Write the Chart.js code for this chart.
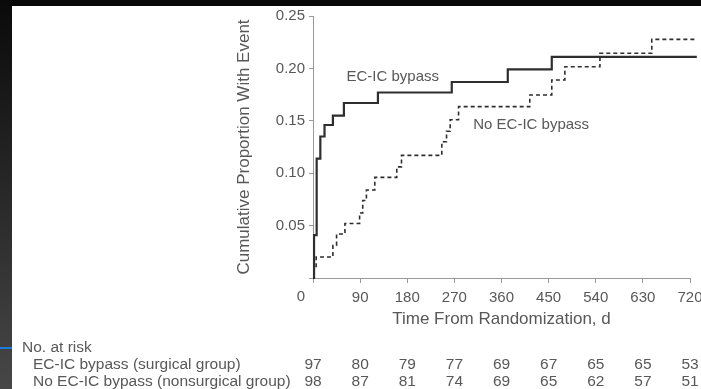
<!DOCTYPE html>
<html>
<head>
<meta charset="utf-8">
<script src="https://cdn.jsdelivr.net/npm/chart.js@4/dist/chart.umd.min.js"></script>
<style>
  html, body { margin: 0; padding: 0; }
  body { width: 701px; height: 389px; background: #080808; position: relative; overflow: hidden; }
  #strip { position: absolute; left: 0; top: 0; width: 12px; height: 389px; background: linear-gradient(#0a0a0a, #474747); }
  #blue { position: absolute; left: 0; top: 347px; width: 12px; height: 2px; background: #1f7ae0; }
  #panel { position: absolute; left: 12px; top: 6px; width: 689px; height: 383px; background: #fff; }
</style>
</head>
<body>
<div id="strip"></div>
<div id="blue"></div>
<div id="panel"><canvas id="km"></canvas></div>
<script>
// Kaplan-Meier steps (day of event, cumulative proportion after it)
const ecicDays = [0, 2, 7, 14, 22, 38, 59, 124, 265, 372, 456, 733];
const ecicProp = [0, 0.041, 0.114, 0.135, 0.146, 0.155, 0.167, 0.177, 0.187, 0.199, 0.211, 0.211];

const noEcicDays = [0, 2, 6, 38, 45, 61, 89, 95, 102, 118, 160, 169, 246, 255, 262, 278, 414, 456, 481, 548, 647, 733];
const noEcicProp = [0, 0.01, 0.02, 0.031, 0.042, 0.052, 0.062, 0.074, 0.084, 0.096, 0.106, 0.117, 0.13, 0.14, 0.151, 0.1635, 0.1746, 0.189, 0.2016, 0.2144, 0.2277, 0.2277];

// number at risk table
const riskDays = [0, 90, 180, 270, 360, 450, 540, 630, 720];
const riskEcic = [97, 80, 79, 77, 69, 67, 65, 65, 53];
const riskNoEcic = [98, 87, 81, 74, 69, 65, 62, 57, 51];
const riskRowLabels = ["EC-IC bypass (surgical group)", "No EC-IC bypass (nonsurgical group)"];

const fontFamily = "'Liberation Sans', Arial, Helvetica, sans-serif";
const textColor = "#585858";
const axisColor = "#9a9a9a";

// text labels next to the curves, placed in data units
const curveLabels = [
  { text: "EC-IC bypass", day: 64, prop: 0.192 },
  { text: "No EC-IC bypass", day: 306, prop: 0.146 },
];

const toPoints = (days, props) => days.map((d, i) => ({ x: d, y: props[i] }));

const riskTable = {
  id: "riskTable",
  afterDraw(chart) {
    const { ctx } = chart;
    const { x, y } = chart.scales;
    ctx.save();
    ctx.fillStyle = textColor;
    ctx.font = `15px ${fontFamily}`;
    ctx.textBaseline = "middle";

    ctx.textAlign = "left";
    curveLabels.forEach((l) => {
      ctx.fillText(l.text, x.getPixelForValue(l.day), y.getPixelForValue(l.prop));
    });

    // shared origin label
    ctx.textAlign = "right";
    ctx.fillText("0", x.left - 8, x.top + 19);

    ctx.font = `15.5px ${fontFamily}`;
    ctx.textAlign = "left";
    ctx.fillText("No. at risk", 10, 342);
    ctx.fillText(riskRowLabels[0], 21, 359);
    ctx.fillText(riskRowLabels[1], 21, 376);

    ctx.textAlign = "center";
    riskDays.forEach((d, i) => {
      const px = x.getPixelForValue(d);
      ctx.fillText(String(riskEcic[i]), px, 359);
      ctx.fillText(String(riskNoEcic[i]), px, 376);
    });
    ctx.restore();
  },
};

const ctx = document.getElementById("km").getContext("2d");

new Chart(ctx, {
  type: "line",
  data: {
    datasets: [
      {
        label: "EC-IC bypass",
        data: toPoints(ecicDays, ecicProp),
        stepped: "before",
        borderColor: "#2e2e2e",
        borderWidth: 2.2,
        pointRadius: 0,
        fill: false,
        clip: false,
      },
      {
        label: "No EC-IC bypass",
        data: toPoints(noEcicDays, noEcicProp),
        stepped: "before",
        borderColor: "#2e2e2e",
        borderWidth: 1.6,
        borderDash: [4, 3],
        pointRadius: 0,
        fill: false,
        clip: false,
      },
    ],
  },
  options: {
    responsive: true,
    maintainAspectRatio: false,
    animation: false,
    devicePixelRatio: 1,
    layout: { padding: { left: 222, right: 11, top: 10, bottom: 55 } },
    plugins: {
      legend: { display: false },
      tooltip: { enabled: false },
    },
    scales: {
      x: {
        type: "linear",
        min: 0,
        max: 720,
        border: { display: true, color: axisColor },
        grid: { drawOnChartArea: false, drawTicks: true, tickLength: 5, color: axisColor },
        ticks: {
          stepSize: 90,
          padding: 6,
          color: textColor,
          font: { family: fontFamily, size: 15 },
          maxRotation: 0,
          callback: (v) => (v === 0 ? "" : v),
        },
        title: {
          display: true,
          text: "Time From Randomization, d",
          color: textColor,
          font: { family: fontFamily, size: 17 },
          padding: { top: 4, bottom: 4 },
        },
        afterFit: (s) => {
          s.height = 56;
          s.paddingLeft = 0;
          s.paddingRight = 0;
        },
      },
      y: {
        min: 0,
        max: 0.25,
        border: { display: true, color: axisColor },
        grid: { drawOnChartArea: false, drawTicks: true, tickLength: 4, color: axisColor },
        ticks: {
          stepSize: 0.05,
          padding: 4,
          color: textColor,
          font: { family: fontFamily, size: 15 },
          callback: (v) => (v === 0 ? "" : v.toFixed(2)),
        },
        title: {
          display: true,
          text: "Cumulative Proportion With Event",
          color: textColor,
          font: { family: fontFamily, size: 17 },
          padding: { top: 0, bottom: 0 },
        },
        afterFit: (s) => {
          s.width = 79;
          s.paddingTop = 0;
          s.paddingBottom = 0;
        },
      },
    },
  },
  plugins: [riskTable],
});
</script>
</body>
</html>
